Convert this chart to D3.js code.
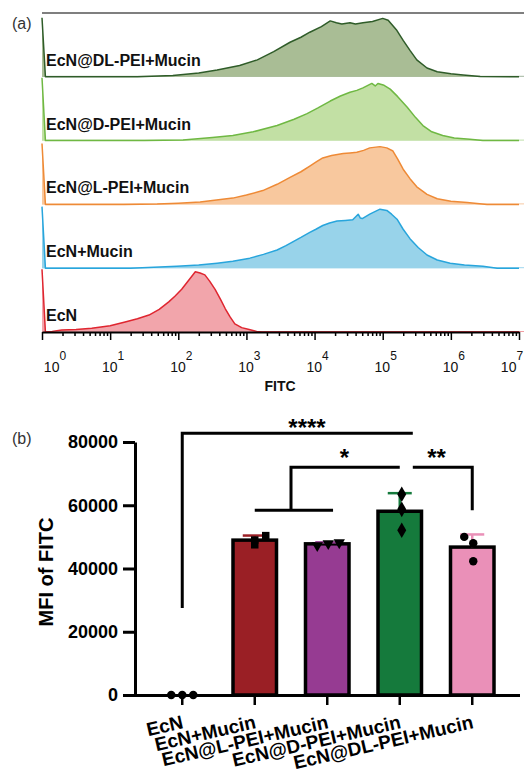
<!DOCTYPE html>
<html>
<head>
<meta charset="utf-8">
<script src="https://cdn.jsdelivr.net/npm/d3@7"></script>
<style>
  body { margin: 0; background: #fff; }
  svg { display: block; font-family: "Liberation Sans", Arial, sans-serif; }
</style>
</head>
<body>
<svg id="chart" width="524" height="774"></svg>
<script>
/* ===== DONNEES PANNEAU (a) : histogrammes FITC ===== */
// [log10(FITC), hauteur relative]
const histNames = ["EcN@DL-PEI+Mucin", "EcN@D-PEI+Mucin", "EcN@L-PEI+Mucin", "EcN+Mucin", "EcN"];
const histDL = [[0,0.94],[0.05,0],[1.4,0],[1.92,0.02],[2.3,0.06],[2.57,0.11],[2.9,0.18],[3.16,0.27],[3.4,0.40],[3.64,0.55],[3.8,0.63],[3.93,0.71],[4.1,0.80],[4.23,0.89],[4.32,0.86],[4.40,0.84],[4.52,0.86],[4.6,0.84],[4.71,0.86],[4.85,0.88],[5.00,0.93],[5.08,0.90],[5.2,0.75],[5.30,0.58],[5.40,0.42],[5.50,0.27],[5.65,0.14],[5.80,0.08],[6.0,0.05],[6.18,0.03],[6.43,0.005],[7,0]];
const histD = [[0,1.0],[0.05,0],[1.5,0],[2.07,0.01],[2.5,0.05],[2.80,0.08],[3.1,0.14],[3.45,0.24],[3.7,0.34],[3.89,0.43],[4.05,0.52],[4.23,0.63],[4.38,0.71],[4.52,0.77],[4.62,0.80],[4.71,0.84],[4.84,0.91],[4.89,0.87],[4.93,0.91],[5.02,0.88],[5.11,0.82],[5.22,0.70],[5.36,0.53],[5.48,0.37],[5.59,0.24],[5.72,0.14],[5.88,0.08],[6.05,0.04],[6.28,0.02],[6.47,0],[7,0]];
const histL = [[0,0.97],[0.05,0],[1.2,0],[1.69,0.005],[2.0,0.02],[2.32,0.04],[2.56,0.07],[2.80,0.10],[3.0,0.15],[3.24,0.22],[3.45,0.32],[3.64,0.43],[3.8,0.52],[3.93,0.61],[4.03,0.68],[4.12,0.74],[4.25,0.78],[4.42,0.81],[4.52,0.82],[4.62,0.83],[4.72,0.86],[4.81,0.90],[4.96,0.92],[5.06,0.90],[5.15,0.85],[5.22,0.72],[5.30,0.56],[5.40,0.41],[5.50,0.28],[5.65,0.16],[5.80,0.09],[6.0,0.05],[6.24,0.03],[6.53,0],[7,0]];
const histMucin = [[0,0.98],[0.05,0],[1.3,0],[1.98,0.03],[2.3,0.05],[2.57,0.08],[2.8,0.11],[3.05,0.16],[3.25,0.22],[3.45,0.29],[3.58,0.36],[3.68,0.42],[3.8,0.49],[3.93,0.57],[4.02,0.62],[4.12,0.68],[4.22,0.72],[4.33,0.75],[4.45,0.76],[4.56,0.77],[4.64,0.86],[4.67,0.80],[4.70,0.79],[4.81,0.86],[4.96,0.94],[5.06,0.92],[5.13,0.86],[5.21,0.78],[5.30,0.62],[5.40,0.47],[5.52,0.33],[5.65,0.21],[5.8,0.13],[5.99,0.08],[6.2,0.05],[6.47,0.03],[6.68,0],[7,0]];
const histEcN = [[0,1.0],[0.05,0],[0.15,0.01],[0.29,0.03],[0.5,0.04],[0.73,0.06],[1.0,0.10],[1.22,0.16],[1.4,0.21],[1.57,0.27],[1.72,0.36],[1.86,0.48],[1.95,0.57],[2.05,0.68],[2.15,0.82],[2.25,0.96],[2.32,0.94],[2.39,0.91],[2.46,0.81],[2.54,0.68],[2.62,0.52],[2.69,0.37],[2.76,0.24],[2.83,0.13],[2.93,0.07],[3.04,0.04],[3.15,0.01],[3.23,0],[7,0]];
const decades = [0, 1, 2, 3, 4, 5, 6, 7];

/* ===== DONNEES PANNEAU (b) : MFI ===== */
const groups = ["EcN", "EcN+Mucin", "EcN@L-PEI+Mucin", "EcN@D-PEI+Mucin", "EcN@DL-PEI+Mucin"];
const meanMFI = [0, 48970, 47800, 58100, 46770];
const sdMFI = [0, 1450, 460, 5720, 4000];
const pointsMFI = [[0, 0, 0], [47500, 49000, 50400], [47300, 47900, 48200], [52100, 58700, 63500], [50000, 48000, 42300]];
const yTicks = [0, 20000, 40000, 60000, 80000];
const comparisons = [
    {label: "****", from: 0, to: 3.18, y: 82800, drop: 27500},
    {label: "*", from: 1.5, to: 3, y: 72000, drop: 58400, pair: [1, 2.08]},
    {label: "**", from: 3.18, to: 4, y: 72000, drop: 58400, right: true}
];

const svg = d3.select("#chart");

/* ===== PANNEAU (a) ===== */
const histData = [histDL, histD, histL, histMucin, histEcN];
const histStroke = ["#2f5c29", "#6fb843", "#ee8a36", "#28a5dc", "#df2630"];
const histFill = ["#a9bd95", "#c2e0a4", "#f8c89e", "#98d3ea", "#f2a5ab"];

const xLog = d3.scaleLog().domain([1, 1e7]).range([42, 519]);
const rows = d3.scaleBand().domain(histNames).range([13, 332]);

svg.append("text").attr("x", 12).attr("y", 29)
    .attr("font-size", 16).attr("fill", "#333").text("(a)");

histNames.forEach((name, i) => {
    const base = rows(name) + rows.bandwidth();
    const yRow = d3.scaleLinear().domain([0, 1]).range([base, rows(name) + 1]);
    const g = svg.append("g");
    // ligne de base de chaque histogramme
    g.append("line").attr("x1", 42).attr("x2", 524).attr("y1", base - 0.5).attr("y2", base - 0.5)
        .attr("stroke", histStroke[i]).attr("stroke-opacity", 0.45).attr("stroke-width", 1);
    g.append("path").datum(histData[i])
        .attr("d", d3.area().x(d => xLog(Math.pow(10, d[0]))).y0(base).y1(d => yRow(d[1])))
        .attr("fill", histFill[i]);
    g.append("path").datum(histData[i])
        .attr("d", d3.line().x(d => xLog(Math.pow(10, d[0]))).y(d => yRow(d[1])))
        .attr("fill", "none").attr("stroke", histStroke[i]).attr("stroke-width", 1.5)
        .attr("stroke-linejoin", "round");
    g.append("text").attr("x", 46).attr("y", base - 11)
        .attr("font-size", 16).attr("font-weight", "bold").attr("fill", "#111").text(name);
});

// cadre du haut
svg.append("line").attr("x1", 42).attr("x2", 524).attr("y1", 13).attr("y2", 13)
    .attr("stroke", "#555").attr("stroke-width", 1.5);

// axe log avec ticks mineurs
const minor = [];
decades.slice(0, -1).forEach(p => { for (let k = 2; k < 10; k++) minor.push(k * Math.pow(10, p)); });
const xAxisA = svg.append("g").attr("transform", "translate(0,332)")
    .call(d3.axisBottom(xLog).tickValues(minor.concat(decades.map(p => Math.pow(10, p))))
        .tickFormat("").tickSizeOuter(0));
xAxisA.select(".domain").attr("stroke", "#000").attr("stroke-width", 2);
xAxisA.selectAll(".tick line").attr("stroke", "#000").attr("stroke-width", 1.5)
    .attr("y2", d => decades.some(p => Math.abs(Math.pow(10, p) - d) < 1e-6) ? 8 : 4);

decades.forEach((p, i) => {
    let cx = xLog(Math.pow(10, p)) + 3;
    if (i === 0) cx += 10;
    if (i === decades.length - 1) cx -= 10;
    const t = svg.append("text").attr("x", cx).attr("y", 372).attr("text-anchor", "middle")
        .attr("font-size", 14).attr("fill", "#111");
    t.append("tspan").text("10");
    t.append("tspan").attr("dy", -12).attr("font-size", 12).text(p);
});
svg.append("text").attr("x", 280).attr("y", 391).attr("text-anchor", "middle")
    .attr("font-size", 14).attr("font-weight", "bold").attr("fill", "#111").text("FITC");

/* ===== PANNEAU (b) ===== */
const barColors = ["#ffffff", "#9a1f25", "#963b92", "#157a3c", "#ea90b8"];
const x = d3.scaleBand().domain(groups).range([146, 508.5]).paddingInner(0.4).paddingOuter(0.2);
const y = d3.scaleLinear().domain([0, 80000]).range([695, 442]);
const cx = i => x(groups[i]) + x.bandwidth() / 2;
const step = x.step();
const xAt = v => x(groups[0]) + x.bandwidth() / 2 + v * step;

svg.append("text").attr("x", 12).attr("y", 444)
    .attr("font-size", 16).attr("fill", "#333").text("(b)");

// barres
svg.append("g").selectAll("rect").data(groups.slice(1)).join("rect")
    .attr("x", d => x(d)).attr("width", x.bandwidth())
    .attr("y", (d, i) => y(meanMFI[i + 1])).attr("height", (d, i) => y(0) - y(meanMFI[i + 1]))
    .attr("fill", (d, i) => barColors[i + 1]).attr("stroke", "#000").attr("stroke-width", 3.5);

// barres d'erreur (vers le haut seulement)
groups.forEach((gname, i) => {
    if (sdMFI[i] === 0) return;
    const g = svg.append("g").attr("stroke", barColors[i]).attr("stroke-width", 2.5);
    g.append("line").attr("x1", cx(i)).attr("x2", cx(i)).attr("y1", y(meanMFI[i])).attr("y2", y(meanMFI[i] + sdMFI[i]));
    g.append("line").attr("x1", cx(i) - 12).attr("x2", cx(i) + 12)
        .attr("y1", y(meanMFI[i] + sdMFI[i])).attr("y2", y(meanMFI[i] + sdMFI[i]));
});

// points individuels
const jitter = [[-11, 0, 11], [0, 0, 11], [-10, 1, 12], [2, 2, 2], [-8, 1, 1]];
const shapes = [d3.symbolCircle, d3.symbolSquare, d3.symbolTriangle, d3.symbolDiamond, d3.symbolCircle];
groups.forEach((gname, i) => {
    svg.append("g").selectAll("path").data(pointsMFI[i]).join("path")
        .attr("d", d3.symbol().type(shapes[i]).size(i === 3 ? 70 : 56))
        .attr("transform", (v, j) => `translate(${cx(i) + jitter[i][j]},${y(v)})${i === 2 ? " rotate(180)" : ""}`)
        .attr("fill", "#000");
});

// axes
const yAxis = svg.append("g").attr("transform", "translate(135,0)")
    .call(d3.axisLeft(y).tickValues(yTicks).tickFormat(d3.format("d")).tickSize(12).tickSizeOuter(0).tickPadding(5));
yAxis.select(".domain").attr("stroke-width", 3);
yAxis.selectAll(".tick line").attr("stroke-width", 3);
yAxis.selectAll(".tick text").attr("font-size", 18).attr("font-weight", "bold").attr("fill", "#000")
    .attr("font-family", "Liberation Sans, Arial, sans-serif");

const xAxis = svg.append("g").attr("transform", "translate(0,695)")
    .call(d3.axisBottom(x).tickSize(10).tickSizeOuter(0).tickFormat(""));
xAxis.select(".domain").attr("d", "M133.5,0.5H520").attr("stroke-width", 3);
xAxis.selectAll(".tick line").attr("stroke-width", 2.5);

svg.append("g").selectAll("text").data(groups).join("text")
    .attr("transform", (d, i) => `translate(${cx(i) + 2},728) rotate(-13)`)
    .attr("text-anchor", "end").attr("font-size", 19).attr("font-weight", "bold").attr("fill", "#000")
    .text(d => d);

svg.append("text").attr("transform", "translate(53,572) rotate(-90)").attr("text-anchor", "middle")
    .attr("font-size", 20).attr("font-weight", "bold").attr("fill", "#000").text("MFI of FITC");

// crochets de significativite
const br = svg.append("g").attr("stroke", "#000").attr("stroke-width", 3).attr("fill", "none");
comparisons.forEach(c => {
    const x1 = xAt(c.from), x2 = xAt(c.to);
    let d;
    if (c.right) d = `M${x1},${y(c.y)}H${x2}V${y(c.drop)}`;
    else d = `M${x2},${y(c.y)}H${x1}V${y(c.drop)}`;
    br.append("path").attr("d", d);
    if (c.pair) br.append("path").attr("d", `M${xAt(c.pair[0])},${y(c.drop)}H${xAt(c.pair[1])}`);
});
svg.append("g").selectAll("text").data(comparisons).join("text")
    .attr("x", (c, i) => i === 0 ? 307 : (xAt(c.from) + xAt(c.to)) / 2 + (i === 1 ? -1 : -6))
    .attr("y", c => y(c.y) + (c.label === "****" ? 3 : -1))
    .attr("text-anchor", "middle").attr("font-size", 24).attr("font-weight", "bold").attr("fill", "#000")
    .text(c => c.label);
</script>
</body>
</html>
